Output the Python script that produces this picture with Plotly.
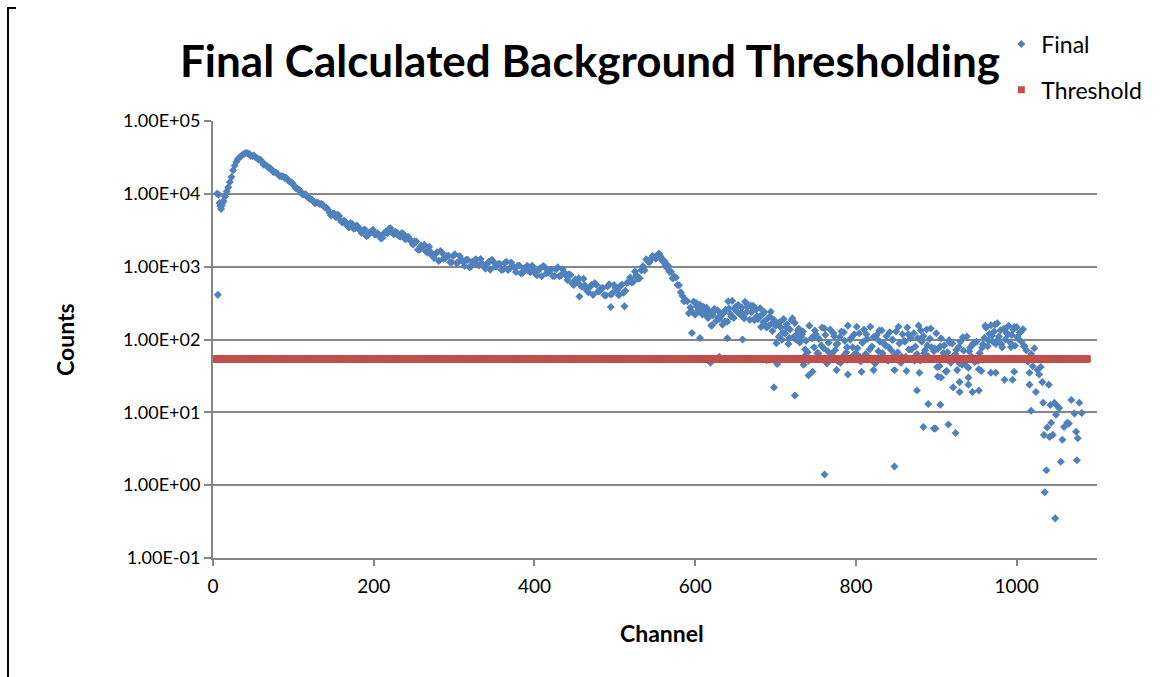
import plotly.graph_objects as go

# ---------------- data ----------------
# Rising edge of the spectrum (channel, counts)
rise_ch = [5, 7, 8, 9, 10, 11, 12, 13, 15, 17, 19, 21, 23, 25, 27, 29, 31, 33, 35, 37, 39, 41, 43]
rise_counts = [10000, 9800, 7500, 6800, 6200, 6900, 7600, 8000,
               9200, 10800, 12300, 14500, 17000, 21000, 24500, 27500, 30000, 31600,
               33000, 34500, 35500, 36300, 36000]

# Continuum from channel 45 to 561, every 4th channel
decay_ch = list(range(45, 562, 4))
decay_counts = [
    35500, 33000, 31600, 29500, 27500, 25100, 22900, 21400, 20000, 18600,
    17400, 16600, 15500, 14500, 12900, 11700, 10700, 9800, 9100, 8500,
    7900, 7600, 7200, 6900, 6500, 5500, 5350, 4760, 4970, 4040,
    4110, 3470, 3870, 3400, 3440, 2900, 3240, 2720, 3030, 2780,
    2880, 2440, 2870, 2870, 3360, 2790, 2910, 2570, 2800, 2410,
    2380, 2000, 2210, 1710, 1880, 1620, 1870, 1410, 1500, 1200,
    1550, 1310, 1410, 1150, 1480, 1150, 1260, 1020, 1240, 1010,
    1160, 1070, 1270, 995, 1090, 910, 1170, 1010, 1090, 915,
    1170, 940, 1030, 845, 1035, 820, 940, 870, 1030, 810,
    885, 740, 975, 825, 910, 745, 980, 760, 835, 655,
    770, 560, 640, 555, 680, 475, 525, 410, 565, 460,
    510, 405, 575, 430, 510, 405, 570, 465, 615, 605,
    855, 685, 890, 890, 1200, 1260, 1350, 1450, 1380, 1200,
]

# Interleaved channels 47 to 559, every 4th channel
decay2_ch = list(range(47, 560, 4))
decay2_counts = [
    33000, 33600, 30800, 29300, 25200, 24200, 22600, 20000, 19300, 17400,
    17400, 16700, 14800, 14000, 11900, 11500, 9900, 9900, 8760, 8350,
    7450, 7480, 7310, 6560, 6100, 5060, 5340, 5190, 4280, 4300,
    3660, 3960, 3330, 3680, 3170, 3150, 2620, 2940, 3210, 2760,
    2690, 2500, 3030, 3320, 2930, 3010, 2650, 2890, 2390, 2570,
    2190, 2240, 1710, 1950, 1990, 1550, 1580, 1320, 1580, 1640,
    1290, 1400, 1150, 1410, 1120, 1400, 1170, 1240, 985, 1170,
    1260, 1035, 1100, 940, 1170, 1240, 995, 1090, 900, 1120,
    900, 1140, 965, 1030, 810, 950, 1030, 840, 890, 765,
    950, 1020, 815, 895, 745, 920, 740, 920, 765, 785,
    590, 665, 690, 530, 550, 445, 560, 595, 455, 505,
    405, 535, 415, 560, 475, 545, 440, 595, 710, 620,
    740, 695, 1010, 1260, 1160, 1340, 1290, 1490, 1220,
]

# Noisy high-channel region, every 2nd channel from 562 to 1030
scatter_ch = list(range(562, 1031, 2))
scatter_counts = [
    1180, 980, 1040, 855, 850, 690, 730, 710, 560, 555,
    445, 400, 335, 350, 335, 229, 275, 240, 331, 219,
    285, 254, 299, 237, 282, 224, 274, 197, 243, 155,
    215, 265, 180, 250, 191, 209, 160, 236, 258, 175,
    267, 223, 339, 198, 279, 240, 296, 220, 275, 204,
    329, 237, 292, 186, 237, 290, 186, 259, 190, 204,
    149, 222, 239, 153, 194, 156, 240, 131, 186, 155,
    166, 109, 149, 99, 191, 121, 162, 87, 137, 184,
    107, 169, 116, 132, 91, 108, 129, 59, 96, 67,
    155, 53, 105, 78, 118, 65, 102, 56, 146, 76,
    115, 47, 90, 137, 63, 122, 71, 85, 50, 108,
    129, 59, 96, 67, 155, 53, 105, 78, 118, 65,
    76, 122, 50, 90, 137, 63, 102, 56, 150, 80,
    108, 47, 115, 69, 93, 133, 59, 85, 111, 51,
    126, 71, 99, 61, 129, 67, 88, 48, 118, 96,
    58, 146, 73, 105, 54, 122, 80, 63, 155, 51,
    93, 111, 71, 137, 59, 102, 78, 53, 76, 122,
    74, 43, 104, 56, 83, 36, 67, 98, 48, 88,
    53, 63, 38, 79, 93, 45, 70, 51, 110, 41,
    77, 58, 86, 49, 93, 51, 65, 37, 86, 106,
    145, 81, 119, 157, 94, 129, 87, 167, 110, 134,
    78, 140, 100, 122, 154, 91, 115, 137, 82, 148,
    102, 126, 93, 138, 81, 71, 50, 24, 63, 43,
    76, 19, 38, 33, 42,
]

# Interleaved odd channels 601 to 1009, every 4th channel
scatter2_ch = list(range(601, 1010, 4))
scatter2_counts = [
    320, 243, 221, 239, 212, 157, 254, 200, 225, 177,
    334, 207, 263, 296, 233, 195, 279, 292, 189, 210,
    269, 174, 146, 206, 173, 89, 173, 124, 146, 105,
    195, 101, 140, 118, 73, 51, 105, 133, 65, 83,
    142, 69, 54, 111, 88, 48, 126, 78, 99, 61,
    150, 58, 93, 118, 73, 51, 105, 133, 65, 83,
    78, 99, 61, 150, 58, 93, 118, 73, 51, 105,
    133, 65, 83, 142, 69, 42, 81, 65, 37, 90,
    58, 72, 47, 107, 44, 69, 86, 55, 39, 77,
    154, 96, 113, 160, 100, 86, 137, 117, 79, 148,
    108, 127, 81,
]

# Sparse tail of the spectrum (channel, counts)
tail_points = [
    (1032, 26), (1033, 13.5), (1034, 4.9), (1035, 0.8), (1037, 1.6), (1038, 6.2),
    (1040, 24), (1041, 4.6), (1042, 12.6), (1043, 7.2), (1045, 4.9), (1047, 13.5),
    (1048, 0.35), (1049, 9.3), (1051, 12.0), (1053, 11.5), (1055, 2.1), (1057, 4.2),
    (1059, 6.3), (1063, 7.2), (1065, 7.0), (1068, 14.8), (1072, 9.6), (1074, 5.4),
    (1075, 2.2), (1076, 4.4), (1078, 13.5), (1081, 9.8),
]

# Additional individual channels off the main trend (channel, counts)
extra_points = [
    (6, 410), (456, 390), (495, 280), (512, 285), (527, 760), (535, 1000),
    (543, 1150), (547, 1400), (551, 1300), (555, 1500), (559, 1250), (563, 1050),
    (596, 123), (606, 105), (619, 48), (630, 58), (640, 104), (659, 100),
    (689, 52), (698, 22), (702, 46), (724, 17), (735, 45), (741, 32), (746, 36),
    (761, 1.4), (776, 38), (790, 33), (807, 36), (822, 38), (848, 38), (848, 1.8),
    (863, 37), (876, 20), (879, 35), (884, 6.3), (890, 13), (897, 6.0), (899, 6.0),
    (902, 31), (905, 12.7), (906, 30), (915, 6.8), (921, 22), (924, 5.2), (929, 19),
    (929, 26), (940, 24), (940, 30), (945, 19), (953, 20), (968, 35), (974, 35),
    (985, 28), (995, 28), (997, 36), (1016, 35), (1018, 10.5),
]

threshold_value = 54
threshold_ch = list(range(0, 1089))

y_tick_vals = [0.1, 1, 10, 100, 1000, 10000, 100000]
y_tick_text = ["1.00E-01", "1.00E+00", "1.00E+01", "1.00E+02", "1.00E+03", "1.00E+04", "1.00E+05"]
x_tick_vals = [0, 200, 400, 600, 800, 1000]

# ---------------- assemble ----------------
final_ch = (rise_ch + decay_ch + decay2_ch + scatter_ch + scatter2_ch
            + [c for c, _ in tail_points] + [c for c, _ in extra_points])
final_counts = (rise_counts + decay_counts + decay2_counts + scatter_counts + scatter2_counts
                + [v for _, v in tail_points] + [v for _, v in extra_points])

FONT = "Lato"
BLUE = "#4F81BD"
RED = "#C0504D"
GRID = "#868686"

fig = go.Figure()
fig.add_trace(go.Scatter(
    x=final_ch, y=final_counts, mode="markers", name="Final",
    legendgroup="final",
    marker=dict(symbol="diamond", size=6.2, color=BLUE, line=dict(width=0)),
))
fig.add_trace(go.Scatter(
    x=threshold_ch, y=[threshold_value] * len(threshold_ch), mode="markers",
    name="Threshold", legendgroup="threshold",
    marker=dict(symbol="square", size=7, color=RED, line=dict(width=0)),
))

fig.update_layout(
    width=1162, height=677,
    margin=dict(l=213, r=65, t=121, b=119),
    paper_bgcolor="white", plot_bgcolor="white",
    font=dict(family=FONT, size=18, color="black"),
    title=dict(
        text="<b>Final Calculated Background Thresholding</b>",
        font=dict(family=FONT, size=44, color="black"),
        x=0.4265, xref="paper", xanchor="center",
        y=1 - 62 / 677, yref="container", yanchor="middle",
    ),
    legend=dict(
        x=0.8918, y=1.2254, xanchor="left", yanchor="top",
        font=dict(family=FONT, size=23, color="black"),
        tracegroupgap=13, bgcolor="rgba(0,0,0,0)",
    ),
    showlegend=True,
)

fig.update_xaxes(
    range=[0, 1100], tickvals=x_tick_vals, ticks="outside", ticklen=6,
    tickwidth=2, tickcolor=GRID, showline=True, linecolor=GRID, linewidth=2,
    showgrid=False, zeroline=False, tickfont=dict(size=19), ticklabelstandoff=4,
)
fig.update_yaxes(
    type="log", range=[-1, 5], tickvals=y_tick_vals, ticktext=y_tick_text,
    ticks="outside", ticklen=7, tickwidth=2, tickcolor=GRID,
    showline=True, linecolor=GRID, linewidth=2,
    showgrid=True, gridcolor=GRID, gridwidth=2, zeroline=False,
    tickfont=dict(size=18),
)

# axis titles
fig.add_annotation(text="<b>Channel</b>", xref="paper", yref="paper",
                   x=(662 - 213) / 884, y=(558 - 633) / 437, showarrow=False,
                   font=dict(family=FONT, size=23, color="black"),
                   xanchor="center", yanchor="middle")
fig.add_annotation(text="<b>Counts</b>", xref="paper", yref="paper",
                   x=(65 - 213) / 884, y=(558 - 340) / 437, showarrow=False,
                   textangle=-90, font=dict(family=FONT, size=23, color="black"),
                   xanchor="center", yanchor="middle")

# chart frame edge on the left
fig.add_shape(type="line", xref="paper", yref="paper",
              x0=(8 - 213) / 884, x1=(8 - 213) / 884,
              y0=(558 - 8) / 437, y1=(558 - 680) / 437,
              line=dict(color="black", width=2))
fig.add_shape(type="line", xref="paper", yref="paper",
              x0=(7 - 213) / 884, x1=(16 - 213) / 884,
              y0=(558 - 8) / 437, y1=(558 - 8) / 437,
              line=dict(color="black", width=2))

fig.write_html("out.html")
